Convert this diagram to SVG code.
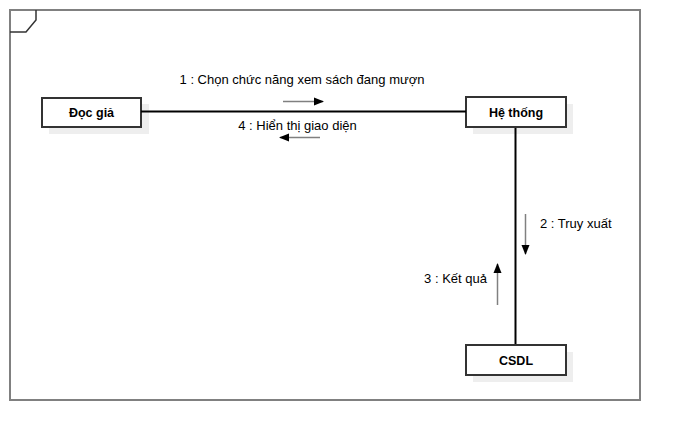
<svg xmlns="http://www.w3.org/2000/svg" width="681" height="441" viewBox="0 0 681 441">
<defs>
<marker id="ah" viewBox="0 0 10 10" refX="9" refY="5" markerWidth="10" markerHeight="10" markerUnits="userSpaceOnUse" orient="auto">
<path d="M0,1 L10,5 L0,9 Z" fill="#000"/>
</marker>
</defs>
<style>
.frame{fill:#fff;stroke:#808080;stroke-width:2}
.shadow{fill:#eeeeee}
.node{fill:#fff;stroke:#333;stroke-width:2}
.nl{font-family:"Liberation Sans",Arial,sans-serif;font-size:12.5px;font-weight:bold;fill:#000;text-anchor:middle}
.lbl{font-family:"Liberation Sans",Arial,sans-serif;font-size:13px;fill:#000}
.link{stroke:#000;stroke-width:2;fill:none}
.msg{stroke:#808080;stroke-width:1.5;fill:none;marker-end:url(#ah)}
</style>
<rect width="681" height="441" fill="#fff"/>
<g id="frame">
<rect class="frame" x="10" y="10" width="630" height="390"/>
<path d="M10,32 L26,32 L36,20 L36,10" fill="none" stroke="#333" stroke-width="1.5"/>
</g>
<g id="doc-gia">
<rect class="shadow" x="49" y="104" width="100" height="30"/>
<rect class="node" x="42" y="98" width="99" height="29"/>
<text class="nl" x="91.5" y="117">Đọc giả</text>
</g>
<g id="he-thong">
<rect class="shadow" x="473" y="104" width="100" height="30"/>
<rect class="node" x="466" y="97" width="100" height="30"/>
<text class="nl" x="516" y="116.5">Hệ thống</text>
</g>
<g id="csdl">
<rect class="shadow" x="473" y="352" width="100" height="30"/>
<rect class="node" x="466" y="345" width="100" height="30"/>
<text class="nl" x="516" y="364.5">CSDL</text>
</g>
<g id="connectors">
<line class="link" x1="141" y1="111.5" x2="466" y2="111.5"/>
<line class="link" x1="515.5" y1="128" x2="515.5" y2="344"/>
<line class="msg" x1="283" y1="101.5" x2="323" y2="101.5"/>
<text class="lbl" x="302" y="83.5" text-anchor="middle">1 : Chọn chức năng xem sách đang mượn</text>
<line class="msg" x1="320" y1="137.5" x2="280" y2="137.5"/>
<text class="lbl" x="297.5" y="130" text-anchor="middle">4 : Hiển thị giao diện</text>
<line class="msg" x1="525.5" y1="214" x2="525.5" y2="254"/>
<text class="lbl" x="540" y="228">2 : Truy xuất</text>
<line class="msg" x1="497.5" y1="305" x2="497.5" y2="264"/>
<text class="lbl" x="487" y="283" text-anchor="end">3 : Kết quả</text>
</g>
</svg>
